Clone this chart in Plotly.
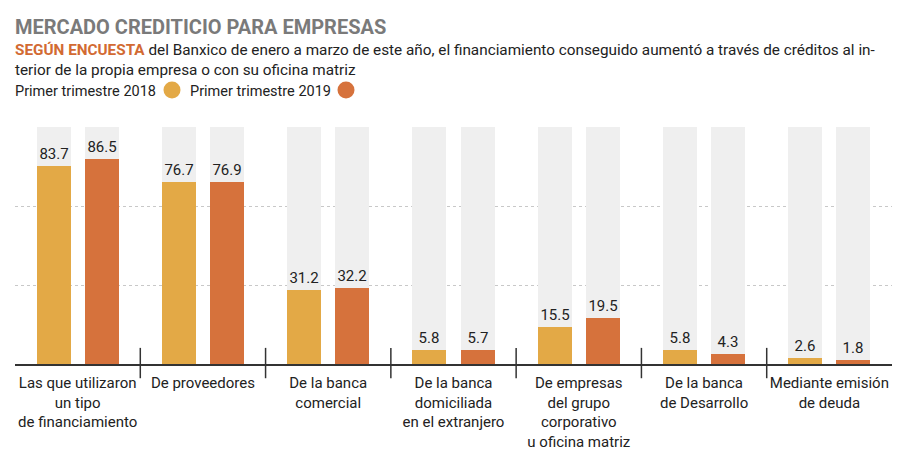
import plotly.graph_objects as go

# ---- data ----
categories = [
    "Las que utilizaron<br>un tipo<br>de financiamiento",
    "De proveedores",
    "De la banca<br>comercial",
    "De la banca<br>domiciliada<br>en el extranjero",
    "De empresas<br>del grupo<br>corporativo<br>u oficina matriz",
    "De la banca<br>de Desarrollo",
    "Mediante emisión<br>de deuda",
]
q1_2018 = [83.7, 76.7, 31.2, 5.8, 15.5, 5.8, 2.6]
q1_2019 = [86.5, 76.9, 32.2, 5.7, 19.5, 4.3, 1.8]
series_names = ["Primer trimestre 2018", "Primer trimestre 2019"]
full_scale = [100] * len(categories)

# ---- styles ----
YELLOW = "#e3a946"
ORANGE = "#d6723c"
BG_GRAY = "#efefef"
FONT = "Roboto"
W, H = 900, 453
ML, MR, MT, MB = 15, 8, 127, 89
PW = W - ML - MR
PH = H - MT - MB


def px(x):
    return (x - ML) / PW


def py(y):
    return (H - MB - y) / PH


bar_w = 0.272
offsets = [-0.328, 0.056]

fig = go.Figure()

for off in offsets:
    fig.add_trace(go.Bar(
        x=categories, y=full_scale, width=bar_w, offset=off,
        marker=dict(color=BG_GRAY, line=dict(width=0)),
        hoverinfo="skip", showlegend=False,
    ))

for name, vals, col, off in zip(series_names, [q1_2018, q1_2019], [YELLOW, ORANGE], offsets):
    fig.add_trace(go.Bar(
        x=categories, y=vals, name=name, width=bar_w, offset=off,
        marker=dict(color=col, line=dict(width=0)),
        text=[f"{v:.1f}" for v in vals], textposition="outside",
        textfont=dict(family=FONT, size=15, color="#222222"),
        constraintext="none", cliponaxis=False, showlegend=False,
    ))

shapes = []
for i in range(len(categories) - 1):
    shapes.append(dict(
        type="line", xref="x", yref="y domain",
        x0=i + 0.5, x1=i + 0.5, y0=-0.06, y1=0.068,
        line=dict(color="#333333", width=1.5),
    ))

# legend circles (drawn after the text, as in the original)
for cx, col in [(172, YELLOW), (346, ORANGE)]:
    shapes.append(dict(
        type="circle", xref="paper", yref="paper",
        x0=px(cx - 8.5), x1=px(cx + 8.5), y0=py(98.5), y1=py(81.5),
        fillcolor=col, line=dict(width=0),
    ))

annotations = [
    dict(text="<b>MERCADO CREDITICIO PARA EMPRESAS</b>", x=px(13), y=py(13),
         font=dict(family=FONT, size=20, color="#7a7a7a")),
    dict(text="<b><span style='color:#d26a32'>SEGÚN ENCUESTA</span></b> del Banxico de enero a marzo de este año, el financiamiento conseguido aumentó a través de créditos al in-"
              "<br>terior de la propia empresa o con su oficina matriz",
         x=px(13), y=py(39), font=dict(family=FONT, size=15.3, color="#222222")),
    dict(text=series_names[0], x=px(13), y=py(81),
         font=dict(family=FONT, size=14.5, color="#222222")),
    dict(text=series_names[1], x=px(188), y=py(81),
         font=dict(family=FONT, size=14.5, color="#222222")),
]
for a in annotations:
    a.update(xref="paper", yref="paper", xanchor="left", yanchor="top",
             showarrow=False, align="left")

fig.update_layout(
    width=W, height=H,
    margin=dict(l=ML, r=MR, t=MT, b=MB),
    paper_bgcolor="white", plot_bgcolor="white",
    barmode="overlay", bargap=0,
    font=dict(family=FONT, size=15, color="#222222"),
    shapes=shapes, annotations=annotations,
    xaxis=dict(
        range=[-0.5, len(categories) - 0.5], showline=True, linecolor="#333333",
        linewidth=2, ticks="", showgrid=False, zeroline=False,
        ticklabelstandoff=4, automargin=False,
        tickfont=dict(family=FONT, size=15, color="#222222"),
    ),
    yaxis=dict(
        range=[0, 100], tickvals=[100 / 3, 200 / 3, 100], showticklabels=False,
        showgrid=True, gridcolor="#c8c8c8", griddash="dot", gridwidth=1,
        zeroline=False, showline=False, fixedrange=True, automargin=False,
    ),
)

fig.write_html("out.html")
